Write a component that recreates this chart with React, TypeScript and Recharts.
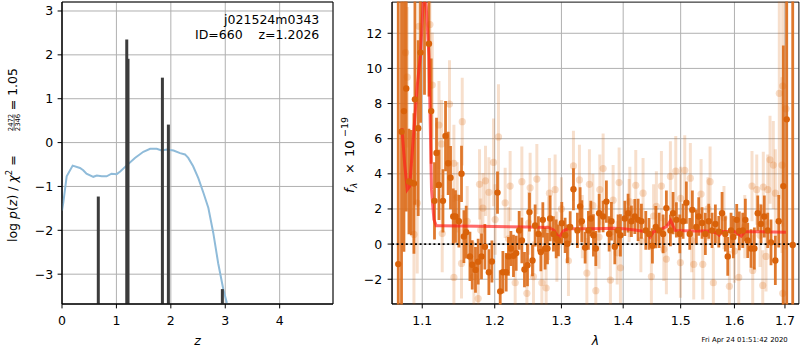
import React from 'react';
import {
  ComposedChart, Line, Scatter, ErrorBar, XAxis, YAxis, CartesianGrid,
  ReferenceLine, ReferenceArea,
} from 'recharts';

const FONT = '"DejaVu Sans", sans-serif';

// ---------- left panel: log p(z) ----------
const pzZ = [0, 0.024, 0.086, 0.196, 0.33, 0.39, 0.45, 0.575, 0.64, 0.73, 0.82, 0.91, 1.005, 1.07, 1.19, 1.34, 1.495, 1.62, 1.74, 1.83, 1.925, 2.05, 2.17, 2.26, 2.32, 2.41, 2.505, 2.6, 2.69, 2.78, 2.87, 2.965, 3.03];
const pzLog = [-1.55, -1.37, -0.77, -0.525, -0.58, -0.63, -0.71, -0.78, -0.75, -0.77, -0.77, -0.71, -0.72, -0.66, -0.52, -0.35, -0.21, -0.14, -0.14, -0.18, -0.16, -0.18, -0.24, -0.27, -0.35, -0.54, -0.81, -1.15, -1.49, -2.06, -2.75, -3.35, -3.66];
const peakZ = [0.667, 1.19, 1.213, 1.845, 1.955, 2.947];
const peakLog = [-1.23, 2.35, 1.91, 1.48, 0.41, -3.34];
const zTicks = [0, 1, 2, 3, 4];
const logpTicks = [-3, -2, -1, 0, 1, 2, 3];
const zDomain = [0, 4.98];
const logpDomain = [-3.68, 3.205];

// ---------- right panel: spectrum ----------
const darkLam = [
  1.0688, 1.0730, 1.0761, 1.0791, 1.0826, 1.0856, 1.0891, 1.0904, 1.0947, 1.0978,
  1.1030, 1.1089, 1.1119, 1.1163, 1.1190, 1.1223, 1.1277, 1.1312, 1.1348, 1.1380,
  1.1417, 1.1448, 1.1495, 1.1531, 1.1564, 1.1596, 1.1648, 1.1680, 1.1726, 1.1764,
  1.1811, 1.1859, 1.1916, 1.1959, 1.2040, 1.2079, 1.2118, 1.2166, 1.2199, 1.2235,
  1.2273, 1.2313, 1.2357, 1.2397, 1.2436, 1.2481, 1.2511, 1.2556, 1.2596, 1.2646,
  1.2683, 1.2713, 1.2748, 1.2784, 1.2825, 1.2876, 1.2918, 1.2953, 1.3006, 1.3058,
  1.3094, 1.3137, 1.3189, 1.3252, 1.3295, 1.3322, 1.3375, 1.3428, 1.3467, 1.3509,
  1.3548, 1.3602, 1.3667, 1.3721, 1.3766, 1.3804, 1.3860, 1.3915, 1.3954, 1.4027,
  1.4083, 1.4139, 1.4197, 1.4253, 1.4310, 1.4385, 1.4442, 1.4500, 1.4559, 1.4617,
  1.4687, 1.4745, 1.4816, 1.4864, 1.4923, 1.4984, 1.5044, 1.5103, 1.5165, 1.5212,
  1.5285, 1.5329, 1.5390, 1.5451, 1.5514, 1.5576, 1.5638, 1.5702, 1.5764, 1.5826,
  1.5872, 1.5935, 1.5979, 1.6044, 1.6094, 1.6160, 1.6211, 1.6257, 1.6322, 1.6387,
  1.6454, 1.6519, 1.6584, 1.6652, 1.6718, 1.6805, 1.6873, 1.6967, 1.7036, 1.7159,
];
const darkFlux = [
  -1.14, 6.4, 7.57, 8.86, 3.56, 3.5, 3.45, 8.24, 6.6, 10.9,
  14.5, 11.4, 7.57, 2.46, 5.19, 3.37, 2.46, 6.15, 4.6, 3.78,
  1.57, 1.57, 1.3, 4.0, 0.43, 0.68, -0.7, -1.18, -1.47, -1.0,
  -0.7, -0.15, -1.6, -0.99, 2.93, -2.69, -1.6, -1.6, -0.7, -0.25,
  -0.67, -0.52, 0.78, 0.21, -1.45, -1.2, 1.82, -0.93, 1.06, 0.58,
  -0.45, 1.38, -0.25, -0.25, 1.46, 0.58, 0.3, 0.21, 1.19, 0.5,
  0.02, 0.97, 3.12, 0.78, 2.14, 1.3, -0.2, 0.78, 1.46, 0.5,
  -0.25, 1.76, 1.57, 2.42, 0.58, 1.3, -0.15, 0.78, 0.5, 1.46,
  1.76, 1.3, 1.57, 1.38, 1.3, 0.78, 0.58, -0.1, 0.97, 0.78,
  0.58, 2.05, 0.78, 1.76, 1.38, 0.58, 1.3, 2.36, 0.58, 1.95,
  0.97, 1.57, 1.2, 0.58, 1.3, 0.78, 1.15, 0.7, 1.76, 0.58,
  -0.7, 0.78, 0.4, 1.38, 0.75, 0.78, 1.38, 0.21, -0.25, -0.25,
  1.76, 1.15, 1.57, 0.78, 0.1, -0.93, 1.3, 3.3, 7.1, -0.05,
];
const darkErr = [
  20, 12, 8, 7, 3, 3, 4, 6, 5, 4,
  6, 3, 3, 2.2, 2, 2, 1.8, 2, 1.8, 1.8,
  1.6, 1.5, 1.5, 1.6, 1.5, 1.5, 1.4, 1.4, 1.3, 1.3,
  1.3, 1.3, 1.3, 1.2, 1.2, 1.2, 1.2, 1.1, 1.1, 1.0,
  1.2, 1.0, 1.1, 1.3, 1.0, 1.2, 1.1, 0.9, 1.2, 1.0,
  1.1, 1.0, 1.2, 0.9, 1.3, 1.0, 1.1, 0.9, 1.2, 1.0,
  1.1, 0.9, 1.2, 1.0, 1.1, 1.2, 0.9, 1.1, 1.0, 1.2,
  1.0, 1.1, 0.9, 1.2, 1.0, 1.1, 1.0, 0.9, 1.2, 1.0,
  1.1, 0.9, 1.0, 1.2, 1.0, 1.1, 0.9, 1.0, 1.2, 1.0,
  1.1, 1.0, 0.9, 1.2, 1.0, 1.1, 1.0, 1.2, 0.9, 1.1,
  1.0, 1.1, 0.9, 1.2, 1.0, 1.0, 1.1, 0.9, 1.2, 1.0,
  1.1, 1.0, 1.2, 0.9, 1.1, 1.0, 1.2, 1.0, 1.1, 1.2,
  1.0, 1.1, 1.2, 1.0, 1.3, 1.4, 1.5, 8, 12, 15,
];

const lightLam = [
  1.0782, 1.0804, 1.0957, 1.1102, 1.0934, 1.0891, 1.1133, 1.1223, 1.1258, 1.1366,
  1.1426, 1.1541, 1.1267, 1.1472, 1.1783, 1.1868, 1.1916, 1.1531, 1.1426, 1.1704,
  1.1764, 1.1831, 1.1610, 1.2054, 1.1982, 1.2151, 1.2397, 1.2521, 1.2622, 1.2006,
  1.2298, 1.2472, 1.2698, 1.2764, 1.2814, 1.2902, 1.3189, 1.3284, 1.3444, 1.3403,
  1.3110, 1.2929, 1.2224, 1.2571, 1.3667, 1.3613, 1.3932, 1.4213, 1.4338, 1.4657,
  1.4816, 1.4912, 1.5074, 1.5175, 1.3548, 1.3787, 1.3954, 1.4482, 1.4745, 1.4995,
  1.5237, 1.4112, 1.3832, 1.4569, 1.5539, 1.5372, 1.5600, 1.5903, 1.6083, 1.6341,
  1.6434, 1.6564, 1.6652, 1.6698, 1.6764, 1.6805, 1.6885, 1.6954, 1.7022, 1.6940,
  1.6553, 1.6618, 1.6355, 1.5403, 1.6954, 1.3330, 1.4100, 1.4520, 1.5200, 1.5800,
  1.6200, 1.4700, 1.3600, 1.3000, 1.2500, 1.3900, 1.4300, 1.5500, 1.6000, 1.6500,
  1.2800, 1.2200, 1.1800, 1.3500, 1.5000,
];
const lightFlux = [
  10.9, 9.5, 12.4, 12.5, 2.33, 0.55, 9.05, 6.78, 5.7, 7.97,
  4.6, 6.97, 0.6, 2.66, 3.4, 3.6, 2.95, -1.1, -1.9, -1.86,
  -3.1, 2.05, 1.3, 6.1, 4.65, 2.35, 3.55, 3.2, 3.7, 1.4,
  -2.2, -2.8, -2.2, -2.5, 2.9, 3.1, 4.45, 3.65, 3.4, -1.65,
  -0.95, -0.15, 3.3, -1.85, 4.3, 3.1, 3.5, 3.35, 2.9, 3.3,
  3.85, 4.15, 4.2, 3.75, -2.65, -2.05, -1.35, -1.85, -0.85, -1.05,
  -1.15, 2.4, 2.5, 2.15, 3.55, 2.85, -2.2, -2.4, -1.9, 3.3,
  3.1, 3.25, 3.1, 4.8, 4.5, 2.9, 8.58, 9.0, 7.7, 4.5,
  -2.35, -0.7, -1.5, -1.15, -2.8, 1.0, 1.9, 1.6, 0.2, 1.5,
  1.0, -0.3, 0.4, 2.0, 1.2, -0.5, 0.2, 2.0, -0.4, 0.5,
  0.9, 0.3, 0.8, 2.2, 2.6,
];
const lightErr = [
  3, 4, 3, 3, 4, 4, 3, 2.5, 2.5, 2.5,
  2.2, 2.5, 2.2, 2, 2, 2, 2, 2, 2, 2,
  2, 2, 2, 3, 2.5, 2, 2, 2, 2, 2,
  2, 2, 2, 2, 2, 2, 2, 2, 2, 2,
  2, 2, 2, 2, 2, 2, 2, 2, 2, 2,
  2, 2, 2, 2, 2, 2, 2, 2, 2, 2,
  2, 2, 2, 2, 2, 2, 2, 2, 2, 2,
  2, 2, 2, 2.5, 2.5, 2.5, 6, 8, 8, 5,
  2, 2, 2, 2, 4, 1.8, 1.8, 1.8, 1.8, 1.8,
  1.8, 1.8, 1.8, 1.8, 1.8, 1.8, 1.8, 1.8, 1.8, 1.8,
  1.8, 1.8, 1.8, 1.8, 1.8,
];

const modelLam = [
  1.0735, 1.0772, 1.0804, 1.0836, 1.0882, 1.0934, 1.0978, 1.1020, 1.1053, 1.1089,
  1.1123, 1.1155, 1.1186, 1.125, 1.15, 1.20, 1.25, 1.28, 1.288, 1.296,
  1.303, 1.31, 1.35, 1.385, 1.40, 1.42, 1.44, 1.446, 1.452, 1.465,
  1.475, 1.482, 1.487, 1.49, 1.52, 1.55, 1.565, 1.571, 1.578, 1.60,
  1.607, 1.613, 1.62, 1.65, 1.702,
];
const modelFlux = [
  6.6, 4.5, 3.1, 3.3, 6.0, 9.0, 10.8, 14.5, 13.5, 10.7,
  3.1, 1.4, 1.05, 1.05, 1.03, 1.0, 0.97, 0.95, 0.8, 0.35,
  0.75, 0.87, 0.87, 0.9, 0.88, 0.8, 0.7, 0.4, 0.7, 0.85,
  1.0, 1.35, 1.0, 0.78, 0.75, 0.75, 0.65, 0.5, 0.72, 0.72,
  0.6, 0.45, 0.7, 0.7, 0.68,
];
const lamTicks = [1.1, 1.2, 1.3, 1.4, 1.5, 1.6, 1.7];
const fluxTicks = [-2, 0, 2, 4, 6, 8, 10, 12];
const lamDomain = [1.0608, 1.7289];
const fluxDomain = [-3.41, 13.78];

const pzData = pzZ.map((z, i) => ({ z, lp: pzLog[i] }));
const darkData = darkLam.map((lam, i) => ({ lam, f: darkFlux[i], e: darkErr[i] }));
const lightData = lightLam.map((lam, i) => ({ lam, f: lightFlux[i], e: lightErr[i] }));
const modelData = modelLam.map((lam, i) => ({ lam, f: modelFlux[i] }));

const fmt = (v: number) => String(v).replace('-', '\u2212');
const tickStyle = { fill: '#000', fontSize: 12.5, fontFamily: FONT };
const ORANGE = '#d95f02';

const LeftYLabel = () => (
  <g transform="translate(16.5,0) rotate(-90)" fontFamily={FONT} fill="#000">
    <text x={-242} y={0} fontSize={12.5}>
      log <tspan fontStyle="italic">p</tspan>(<tspan fontStyle="italic">z</tspan>) / <tspan fontStyle="italic">χ</tspan>
      <tspan fontSize={8.5} dy={-5}>2</tspan><tspan dy={5}> =</tspan>
    </text>
    <text x={-122.5} y={-3.6} fontSize={6.8} textAnchor="middle">2472</text>
    <line x1={-130.5} x2={-114.5} y1={-2.4} y2={-2.4} stroke="#000" strokeWidth={0.6} />
    <text x={-122.5} y={3.6} fontSize={6.8} textAnchor="middle">2346</text>
    <text x={-68} y={0} fontSize={12.5} textAnchor="end">= 1.05</text>
  </g>
);

const RightYLabel = () => (
  <g transform="translate(13.7,0) rotate(-90)" fontFamily={FONT} fill="#000">
    <text x={-193} y={0} fontSize={13} fontStyle="italic">f</text>
    <text x={-188} y={2.8} fontSize={9} fontStyle="italic">λ</text>
    <text x={-168.5} y={0} fontSize={13} textAnchor="middle">×</text>
    <text x={-157} y={0} fontSize={13}>10</text>
    <text x={-137} y={-5.6} fontSize={9.5}>−19</text>
  </g>
);

const xLabel = (txt: string) => (props: any) => {
  const vb = props.viewBox || {};
  return (
    <text x={vb.x + vb.width / 2} y={vb.y + 41} textAnchor="middle" fontFamily={FONT} fontSize={12.5} fontStyle="italic" fill="#000">{txt}</text>
  );
};

const darkDot = (p: any) => <circle cx={p.cx} cy={p.cy} r={3.2} fill="#d9620a" />;
const lightDot = (p: any) => <circle cx={p.cx} cy={p.cy} r={3.6} fill={ORANGE} fillOpacity={0.22} />;

// plot-area of the right panel inside its 460x350 chart
const R_LEFT = 52, R_TOP = 2, R_RIGHT = 1, R_BOTTOM = 46;

export default function App() {
  return (
    <div style={{ position: 'absolute', left: 0, top: 0, width: 800, height: 350, background: '#fff' }}>
      <div style={{ position: 'absolute', left: 0, top: 0 }}>
        <ComposedChart width={340} height={350} margin={{ top: 2, right: 7, bottom: 0, left: 0 }}>
          <CartesianGrid stroke="#b0b0b0" strokeWidth={1} />
          <XAxis type="number" dataKey="z" domain={zDomain} ticks={zTicks} allowDataOverflow height={46}
            tick={tickStyle} tickFormatter={fmt} tickSize={4.4} tickMargin={7.7}
            axisLine={{ stroke: '#000' }} tickLine={{ stroke: '#000' }} label={xLabel('z')} />
          <YAxis type="number" dataKey="lp" domain={logpDomain} ticks={logpTicks} allowDataOverflow width={62}
            tick={tickStyle} tickFormatter={fmt} tickSize={4.4} tickMargin={4.5}
            axisLine={{ stroke: '#000' }} tickLine={{ stroke: '#000' }} label={LeftYLabel} />
          <Line data={pzData} dataKey="lp" stroke="#8fbbd9" strokeWidth={2} dot={false} isAnimationActive={false} type="linear" />
          {peakZ.map((z, i) => (
            <ReferenceLine key={i} segment={[{ x: z, y: logpDomain[0] }, { x: z, y: peakLog[i] }]}
              stroke="#3c3c3c" strokeWidth={3} ifOverflow="visible" />
          ))}
          <ReferenceArea x1={zDomain[0]} x2={zDomain[1]} y1={logpDomain[0]} y2={logpDomain[1]} fill="none" stroke="#000" strokeWidth={1} ifOverflow="visible" />
        </ComposedChart>
      </div>

      {/* right panel: axes + grid */}
      <div style={{ position: 'absolute', left: 340, top: 0 }}>
        <ComposedChart width={460} height={350} margin={{ top: R_TOP, right: R_RIGHT, bottom: 0, left: 0 }}>
          <CartesianGrid stroke="#b0b0b0" strokeWidth={1} />
          <XAxis type="number" dataKey="lam" scale="log" domain={lamDomain} ticks={lamTicks} allowDataOverflow height={R_BOTTOM}
            tick={tickStyle} tickFormatter={fmt} tickSize={4.4} tickMargin={7.7}
            axisLine={{ stroke: '#000' }} tickLine={{ stroke: '#000' }} label={xLabel('λ')} />
          <YAxis type="number" dataKey="f" domain={fluxDomain} ticks={fluxTicks} allowDataOverflow width={R_LEFT}
            tick={tickStyle} tickFormatter={fmt} tickSize={4.4} tickMargin={5.5}
            axisLine={{ stroke: '#000' }} tickLine={{ stroke: '#000' }} label={RightYLabel} />
          <Line data={[]} dataKey="f" isAnimationActive={false} />
        </ComposedChart>
      </div>

      {/* right panel: data series, clipped to the plot area */}
      <div style={{ position: 'absolute', left: 340, top: 0, clipPath: `inset(${R_TOP - 0.5}px ${R_RIGHT - 0.5}px ${R_BOTTOM - 0.5}px ${R_LEFT - 0.5}px)` }}>
        <ComposedChart width={460} height={350} margin={{ top: R_TOP, right: R_RIGHT, bottom: R_BOTTOM, left: R_LEFT }}>
          <XAxis hide type="number" dataKey="lam" scale="log" domain={lamDomain} allowDataOverflow />
          <YAxis hide type="number" dataKey="f" domain={fluxDomain} allowDataOverflow />
          <Scatter data={lightData} dataKey="f" shape={lightDot} isAnimationActive={false}>
            <ErrorBar dataKey="e" direction="y" width={0} stroke={ORANGE} strokeOpacity={0.2} strokeWidth={3} />
          </Scatter>
          <Scatter data={darkData} dataKey="f" shape={darkDot} isAnimationActive={false}>
            <ErrorBar dataKey="e" direction="y" width={0} stroke="#dc6e1c" strokeOpacity={0.92} strokeWidth={2.8} />
          </Scatter>
          <Line data={modelData} dataKey="f" stroke="#ff1a1a" strokeOpacity={0.65} strokeWidth={3} dot={false} isAnimationActive={false} type="linear" />
          <ReferenceLine y={0} stroke="#000" strokeWidth={1.8} strokeDasharray="2 2.6" />
          <ReferenceArea x1={lamDomain[0]} x2={lamDomain[1]} y1={fluxDomain[0]} y2={fluxDomain[1]} fill="none" stroke="#000" strokeWidth={1} ifOverflow="visible" />
        </ComposedChart>
      </div>

      <svg width={800} height={350} style={{ position: 'absolute', left: 0, top: 0, pointerEvents: 'none' }}>
        <text x={319.3} y={24} textAnchor="end" fontFamily={FONT} fontSize={12.5} fill="#000">j021524m0343</text>
        <text x={195} y={38.5} fontFamily={FONT} fontSize={12.5} fill="#000">ID=660</text>
        <text x={319.3} y={38.5} textAnchor="end" fontFamily={FONT} fontSize={12.5} fill="#000">z=1.2026</text>
        <text x={787.7} y={342} textAnchor="end" fontFamily={FONT} fontSize={6.9} fill="#000">Fri Apr 24 01:51:42 2020</text>
      </svg>
    </div>
  );
}
